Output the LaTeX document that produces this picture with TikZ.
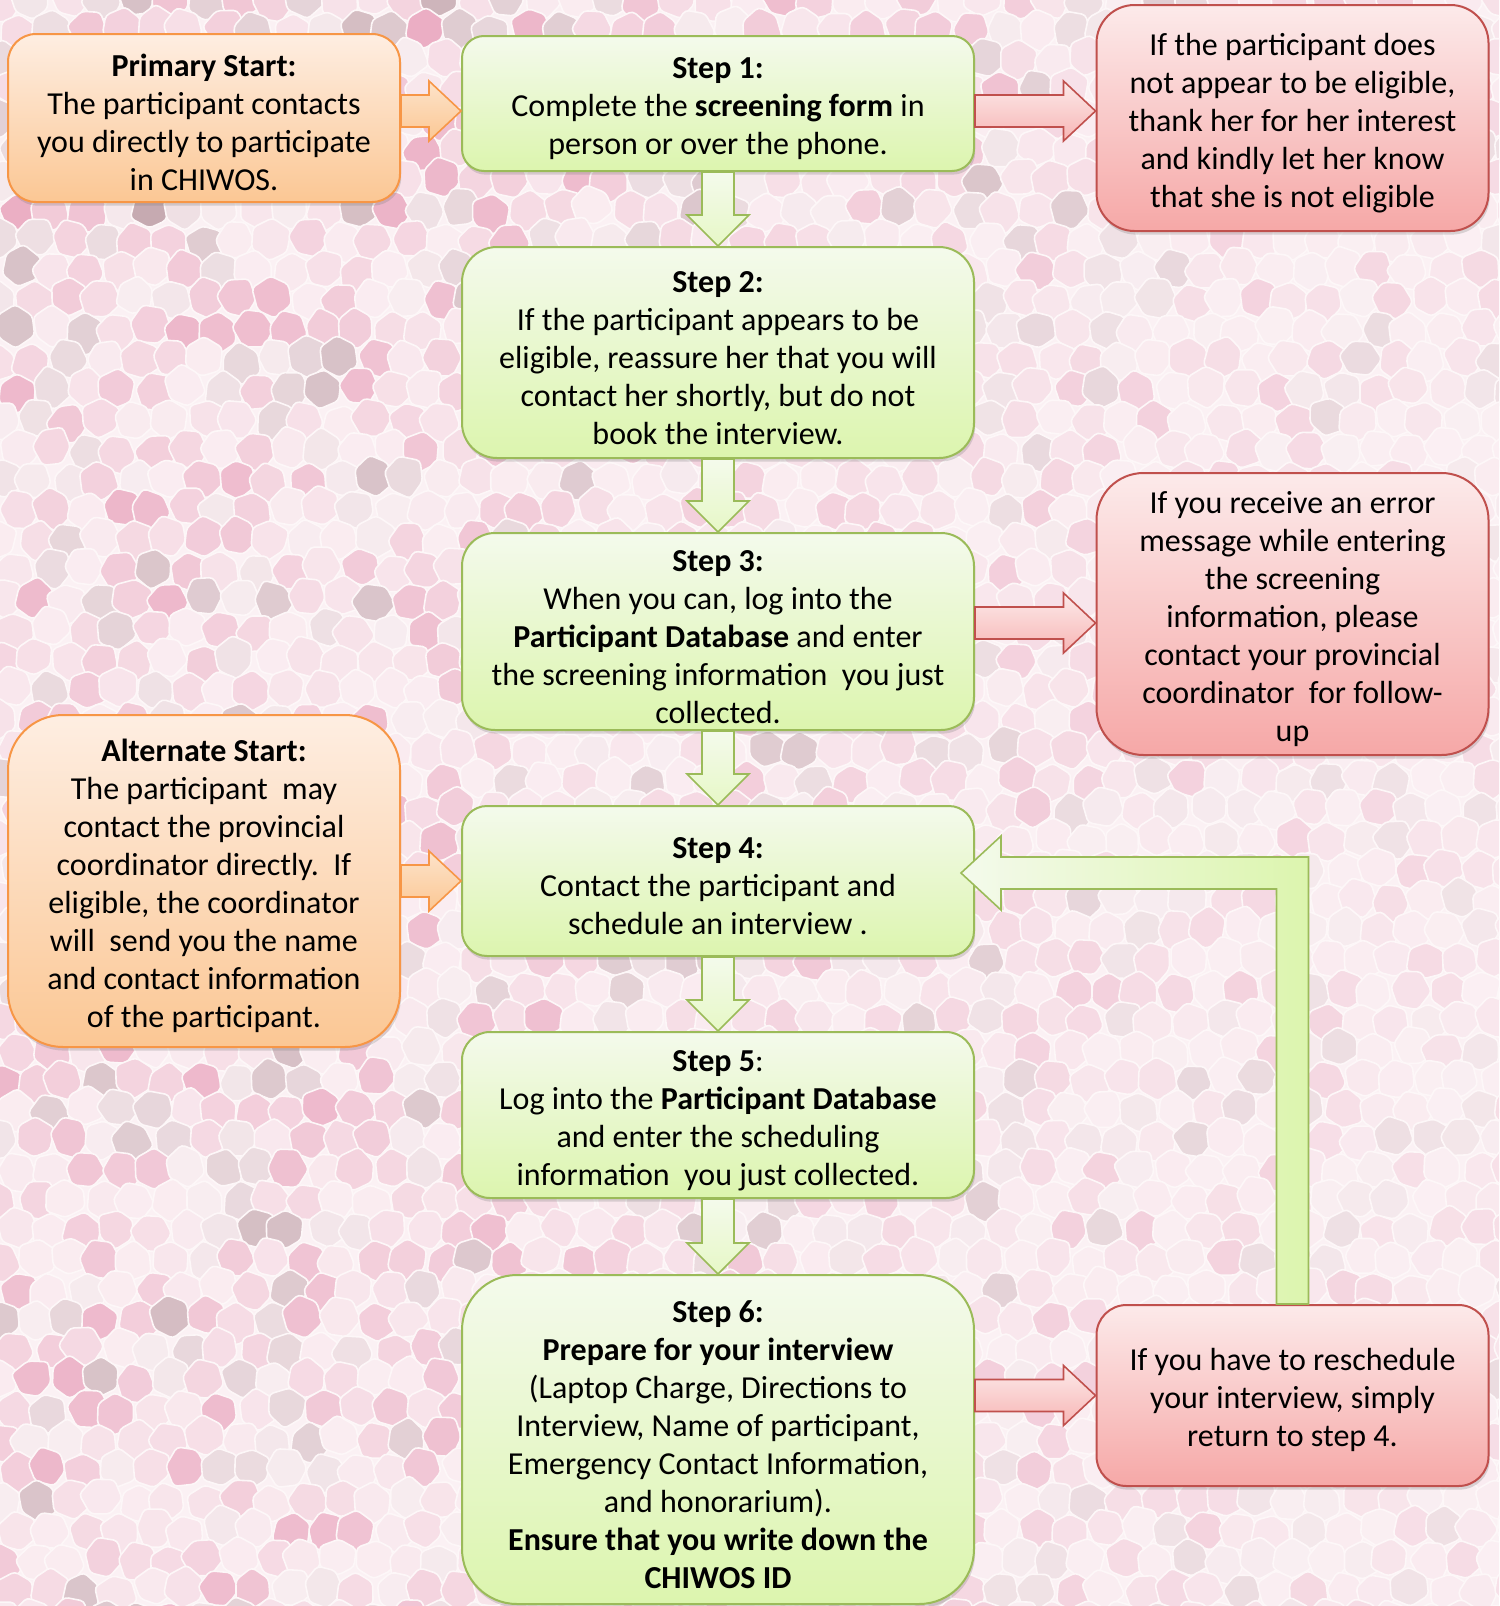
\documentclass[tikz,border=0pt]{standalone}
\usepackage{fontspec}
\setmainfont{Carlito}
\usetikzlibrary{calc,shadows}
\definecolor{leafline}{HTML}{9BBB59}
\definecolor{leaftop}{HTML}{F4FAEC}
\definecolor{leafbot}{HTML}{DCF5AE}
\definecolor{peachline}{HTML}{F79646}
\definecolor{peachtop}{HTML}{FEEEE2}
\definecolor{peachbot}{HTML}{FBC794}
\definecolor{roseline}{HTML}{C0504D}
\definecolor{rosetop}{HTML}{FCEAEA}
\definecolor{rosebot}{HTML}{F6A8A7}
\definecolor{tilepink}{HTML}{E38DAC}
\definecolor{tilegray}{HTML}{B8979F}
\definecolor{paper}{HTML}{FBF1F4}
% taller first line, so the text sits a little low in its box
\newcommand{\topstrut}{\rule{0pt}{16pt}}
\tikzset{
  card/.style={rounded corners=#1, align=center, inner sep=2pt, line width=1pt,
    font=\fontsize{16pt}{19pt}\selectfont,
    drop shadow={opacity=0.28, shadow xshift=0.6pt, shadow yshift=-1.8pt}},
  stepbox/.style={card=#1, draw=leafline, top color=leaftop, bottom color=leafbot, minimum width=256pt},
  startbox/.style={card=#1, draw=peachline, top color=peachtop, bottom color=peachbot, minimum width=196pt},
  notebox/.style={card=#1, draw=roseline, top color=rosetop, bottom color=rosebot, minimum width=196pt},
  leafarr/.style={draw=leafline, line width=0.8pt, top color=leaftop, bottom color=leafbot!70!white},
  peacharr/.style={draw=peachline, line width=0.8pt, top color=peachbot!50!white, bottom color=peachbot},
  rosearr/.style={draw=roseline, line width=0.8pt, top color=rosetop, bottom color=rosebot!85!white},
  looparr/.style={draw=leafline, line width=0.8pt, left color=leaftop, right color=leafbot},
}

\begin{document}
\begin{tikzpicture}[x=0.5pt, y=-0.5pt]
  \useasboundingbox (0,0) rectangle (1499,1606);

  % mosaic backdrop
  \begin{scope}
    \clip (0,0) rectangle (1499,1606);
    \fill[paper] (0,0) rectangle (1499,1606);
    \pgfmathsetseed{11}
    \foreach \j in {0,...,54}{
      \foreach \i in {0,...,45}{
        \pgfmathsetmacro\cx{\i*34+17*mod(\j,2)+8*rnd-4}
        \pgfmathsetmacro\cy{\j*30+8*rnd-4}
        \pgfmathsetmacro\fade{1-0.62*\cx/1499}
        \pgfmathsetmacro\tint{min(85,(5+58*rnd^1.8)*\fade*(\cy<230 ? 1.35 : 1))}
        \pgfmathtruncatemacro\grey{rnd>0.72}
        \pgfmathsetmacro\tw{40*rnd}
        \ifnum\grey=1 \def\tone{tilegray}\else\def\tone{tilepink}\fi
        \filldraw[fill=\tone!\tint!paper, draw=paper!60!white, line width=0.8pt, rounded corners=2pt]
          (\cx,\cy) +(\tw:18+5*rnd) -- +(\tw+60:18+5*rnd) -- +(\tw+120:18+5*rnd)
          -- +(\tw+180:18+5*rnd) -- +(\tw+240:18+5*rnd) -- +(\tw+300:18+5*rnd) -- cycle;
      }
    }
  \end{scope}

  % boxes
  \node[startbox=14pt, minimum height=84pt] (prim) at (204,118)
    {\topstrut\textbf{Primary Start:}\\The participant contacts\\you directly to participate\\in CHIWOS.};
  \node[stepbox=11pt, minimum height=67.5pt] (s1) at (718,103.5)
    {\topstrut\textbf{Step 1:}\\Complete the \textbf{screening form} in\\person or over the phone.};
  \node[notebox=19pt, minimum height=113pt] (r1) at (1292.5,118)
    {\topstrut If the participant does\\not appear to be eligible,\\thank her for her interest\\and kindly let her know\\that she is not eligible};
  \node[stepbox=17.5pt, minimum height=105.5pt] (s2) at (718,352.5)
    {\topstrut\textbf{Step 2:}\\If the participant appears to be\\eligible, reassure her that you will\\contact her shortly, but do not\\book the interview.};
  \node[stepbox=16.5pt, minimum height=98.5pt] (s3) at (718,631.5)
    {\topstrut\textbf{Step 3:}\\When you can, log into the\\\textbf{Participant Database} and enter\\the screening information\ \ you just\\collected.};
  \node[notebox=23.5pt, minimum height=141pt] (r2) at (1292.5,614)
    {\topstrut If you receive an error\\message while entering\\the screening\\information, please\\contact your provincial\\coordinator\ \ for follow-\\up};
  \node[startbox=27.5pt, minimum height=166pt] (alt) at (204,881)
    {\topstrut\textbf{Alternate Start:}\\The participant\ \ may\\contact the provincial\\coordinator directly.\ \ If\\eligible, the coordinator\\will\ \ send you the name\\and contact information\\of the participant.};
  \node[stepbox=12.5pt, minimum height=75pt] (s4) at (718,881)
    {\topstrut\textbf{Step 4:}\\Contact the participant and\\schedule an interview .};
  \node[stepbox=14pt, minimum height=83pt] (s5) at (718,1115)
    {\topstrut\textbf{Step 5}:\\Log into the \textbf{Participant Database}\\and enter the scheduling\\information\ \ you just collected.};
  \node[stepbox=27.5pt, minimum height=164.5pt] (s6) at (718,1439.5)
    {\topstrut\textbf{Step 6:}\\\textbf{Prepare for your interview}\\(Laptop Charge, Directions to\\Interview, Name of participant,\\Emergency Contact Information,\\and honorarium).\\\textbf{Ensure that you write down the}\\\textbf{CHIWOS ID}};
  \node[notebox=15pt, minimum height=90.5pt] (r3) at (1292.5,1395.5)
    {\topstrut If you have to reschedule\\your interview, simply\\return to step 4.};

  % block arrows down the main column
  \foreach \a/\b in {s1/s2, s2/s3, s3/s4, s4/s5, s5/s6}
    \draw[leafarr] let \p1=(\a.south), \p2=(\b.north) in
      (\x1-8pt,\y1) -- (\x1-8pt,\y2+15.5pt) -- (\x1-15.5pt,\y2+15.5pt) -- (\x1,\y2)
      -- (\x1+15.5pt,\y2+15.5pt) -- (\x1+8pt,\y2+15.5pt) -- (\x1+8pt,\y1) -- cycle;

  % block arrows to the side boxes
  \foreach \a/\b/\h/\c in {prim/s1/111/peach, alt/s4/881/peach,
      s1/r1/111/rose, s3/r2/623/rose, s6/r3/1395.5/rose}
    \draw[\c arr] let \p1=(\a.east), \p2=(\b.west), \p3=(0,\h) in
      (\x1,\y3+8pt) -- (\x2-16pt,\y3+8pt) -- (\x2-16pt,\y3+15pt) -- (\x2,\y3)
      -- (\x2-16pt,\y3-15pt) -- (\x2-16pt,\y3-8pt) -- (\x1,\y3-8pt) -- cycle;

  % back to step 4
  \draw[looparr] let \p1=(r3.north), \p3=($(s4.east)+(-14,-8)$) in
    (\x1-8pt,\y1) -- (\x1-8pt,\y3-8pt) -- (\x3+20pt,\y3-8pt) -- (\x3+20pt,\y3-18.5pt)
    -- (\x3,\y3) -- (\x3+20pt,\y3+18.5pt) -- (\x3+20pt,\y3+8pt) -- (\x1+8pt,\y3+8pt)
    -- (\x1+8pt,\y1) -- cycle;
\end{tikzpicture}
\end{document}
